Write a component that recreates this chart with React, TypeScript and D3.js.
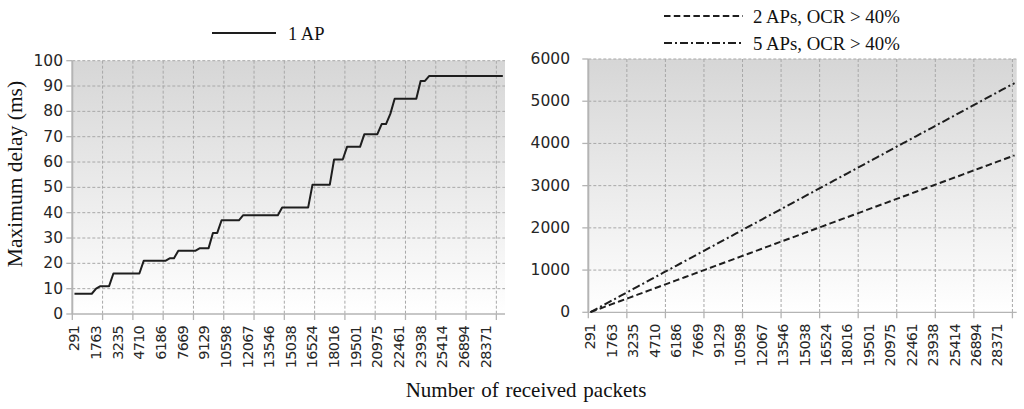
import React from "react";
import * as d3 from "d3";

// ---------- data ----------
const tickLabels = [
  "291", "1763", "3235", "4710", "6186", "7669", "9129", "10598", "12067", "13546",
  "15038", "16524", "18016", "19501", "20975", "22461", "23938", "25414", "26894", "28371",
];
const categoryCount = 100;
const labelInterval = 5;

const ap1 = [
  8, 8, 8, 8, 8, 10, 11, 11, 11, 16,
  16, 16, 16, 16, 16, 16, 21, 21, 21, 21,
  21, 21, 22, 22, 25, 25, 25, 25, 25, 26,
  26, 26, 32, 32, 37, 37, 37, 37, 37, 39,
  39, 39, 39, 39, 39, 39, 39, 39, 42, 42,
  42, 42, 42, 42, 42, 51, 51, 51, 51, 51,
  61, 61, 61, 66, 66, 66, 66, 71, 71, 71,
  71, 75, 75, 79, 85, 85, 85, 85, 85, 85,
  92, 92, 94, 94, 94, 94, 94, 94, 94, 94,
  94, 94, 94, 94, 94, 94, 94, 94, 94, 94,
];

const ap2 = [
  5, 43, 80, 118, 155, 193, 230, 268, 305, 343,
  380, 418, 455, 493, 530, 568, 605, 643, 680, 718,
  755, 793, 830, 868, 905, 943, 980, 1018, 1055, 1093,
  1130, 1168, 1205, 1243, 1280, 1318, 1355, 1393, 1430, 1468,
  1505, 1543, 1580, 1618, 1655, 1693, 1730, 1768, 1805, 1843,
  1880, 1918, 1955, 1993, 2030, 2068, 2105, 2143, 2180, 2218,
  2255, 2293, 2330, 2368, 2405, 2443, 2480, 2518, 2555, 2593,
  2630, 2668, 2705, 2743, 2780, 2818, 2855, 2893, 2930, 2968,
  3005, 3043, 3080, 3118, 3155, 3193, 3230, 3268, 3305, 3343,
  3380, 3418, 3455, 3493, 3530, 3568, 3605, 3643, 3680, 3718,
];

const ap5 = [
  5, 60, 115, 169, 224, 279, 334, 389, 443, 498,
  553, 608, 663, 717, 772, 827, 882, 937, 991, 1046,
  1101, 1156, 1211, 1265, 1320, 1375, 1430, 1485, 1539, 1594,
  1649, 1704, 1759, 1813, 1868, 1923, 1978, 2033, 2087, 2142,
  2197, 2252, 2307, 2361, 2416, 2471, 2526, 2581, 2635, 2690,
  2745, 2800, 2855, 2909, 2964, 3019, 3074, 3129, 3183, 3238,
  3293, 3348, 3403, 3457, 3512, 3567, 3622, 3677, 3731, 3786,
  3841, 3896, 3951, 4005, 4060, 4115, 4170, 4225, 4279, 4334,
  4389, 4444, 4499, 4553, 4608, 4663, 4718, 4773, 4827, 4882,
  4937, 4992, 5047, 5101, 5156, 5211, 5266, 5321, 5375, 5430,
];

const leftYTicks = [0, 10, 20, 30, 40, 50, 60, 70, 80, 90, 100];
const rightYTicks = [0, 1000, 2000, 3000, 4000, 5000, 6000];

const legendLeft = ["1 AP"];
const legendRight = ["2 APs, OCR > 40%", "5 APs, OCR > 40%"];
const yTitle = "Maximum delay (ms)";
const xTitle = "Number of received packets";

// ---------- styles ----------
const SANS = "'DejaVu Sans', sans-serif";
const SERIF = "'Liberation Serif', 'Times New Roman', serif";
const GRID = "#a8a8a8";
const AXIS = "#b4b4b4";
const INK = "#1e1e1e";

type PanelProps = {
  id: string;
  x0: number;
  x1: number;
  yTop: number;
  yBot: number;
  yMax: number;
  yTicks: number[];
  yLabelRight: number;
  tickInterval: number;
  series: { values: number[]; dash: string | null }[];
};

function Panel({ id, x0, x1, yTop, yBot, yMax, yTicks, yLabelRight, tickInterval, series }: PanelProps) {
  const cats = d3.range(categoryCount);
  const x = d3.scaleBand<number>().domain(cats).range([x0, x1]).paddingInner(0).paddingOuter(0);
  const bw = x.bandwidth();
  const y = d3.scaleLinear().domain([0, yMax]).range([yBot, yTop]);
  const line = d3
    .line<number>()
    .x((_, i) => (x(i) as number) + bw / 2)
    .y((d) => y(d));

  const tickBoundaries = cats.filter((i) => i > 0 && i % tickInterval === 0 && i < categoryCount);
  const tickXs = [x0, ...tickBoundaries.map((i) => x(i) as number)];

  return (
    <g>
      <defs>
        <linearGradient id={id} x1="0" y1="0" x2="0" y2="1">
          <stop offset="0%" stopColor="#d6d6d6" />
          <stop offset="100%" stopColor="#ffffff" />
        </linearGradient>
      </defs>
      <rect x={x0} y={yTop} width={x1 - x0} height={yBot - yTop} fill={`url(#${id})`} />
      {yTicks.filter((t) => t > 0).map((t) => (
        <line key={"h" + t} x1={x0} x2={x1} y1={y(t)} y2={y(t)} stroke={GRID} strokeWidth={1} strokeDasharray="3,2" />
      ))}
      {tickBoundaries.map((i) => (
        <line key={"v" + i} x1={x(i) as number} x2={x(i) as number} y1={yTop} y2={yBot} stroke={GRID} strokeWidth={1} strokeDasharray="3,2" />
      ))}
      <line x1={x0} x2={x0} y1={yTop} y2={yBot} stroke={AXIS} strokeWidth={2} />
      <line x1={x0} x2={x1} y1={yBot} y2={yBot} stroke={AXIS} strokeWidth={1.3} />
      {yTicks.map((t) => (
        <g key={"yt" + t}>
          <line x1={x0 - 6} x2={x0} y1={y(t)} y2={y(t)} stroke={AXIS} strokeWidth={1.3} />
          <text x={yLabelRight} y={y(t)} textAnchor="end" dominantBaseline="central" fontFamily={SANS} fontSize={15.5} fill="#262626">
            {t}
          </text>
        </g>
      ))}
      {tickXs.map((tx, k) => (
        <line key={"xt" + k} x1={tx} x2={tx} y1={yBot} y2={yBot + 6} stroke={AXIS} strokeWidth={1.3} />
      ))}
      {tickLabels.map((lab, k) => {
        const cx = (x(k * labelInterval) as number) + bw / 2;
        return (
          <text
            key={"xl" + k}
            transform={`translate(${cx},${yBot + 12}) rotate(-90)`}
            textAnchor="end"
            dominantBaseline="central"
            fontFamily={SANS}
            fontSize={14.5}
            letterSpacing={-0.8}
            fill="#262626"
          >
            {lab}
          </text>
        );
      })}
      {series.map((s, k) => (
        <path
          key={"s" + k}
          d={line(s.values) || ""}
          fill="none"
          stroke={INK}
          strokeWidth={2}
          strokeDasharray={s.dash || undefined}
          strokeLinejoin="round"
        />
      ))}
    </g>
  );
}

export default function App() {
  return (
    <svg
      width={1024}
      height={409}
      style={{ position: "absolute", left: 0, top: 0, background: "#ffffff" }}
    >
      <Panel
        id="gradL"
        x0={72.3}
        x1={505}
        yTop={60.7}
        yBot={314}
        yMax={100}
        yTicks={leftYTicks}
        yLabelRight={63}
        tickInterval={7}
        series={[{ values: ap1, dash: null }]}
      />
      <Panel
        id="gradR"
        x0={588.3}
        x1={1016.7}
        yTop={59}
        yBot={312.3}
        yMax={6000}
        yTicks={rightYTicks}
        yLabelRight={570}
        tickInterval={9}
        series={[
          { values: ap2, dash: "6.5,3.3" },
          { values: ap5, dash: "8,3,2,3" },
        ]}
      />
      {/* legends */}
      <line x1={212} x2={276} y1={33} y2={33} stroke={INK} strokeWidth={2} />
      <text x={288} y={40} fontFamily={SERIF} fontSize={18.5} fill="#111">{legendLeft[0]}</text>
      <line x1={664} x2={743} y1={16} y2={16} stroke={INK} strokeWidth={2} strokeDasharray="6.5,3.3" />
      <text x={753} y={23} fontFamily={SERIF} fontSize={18.8} fill="#111">{legendRight[0]}</text>
      <line x1={664} x2={743} y1={43} y2={43} stroke={INK} strokeWidth={2} strokeDasharray="8,3,2,3" />
      <text x={753} y={50} fontFamily={SERIF} fontSize={18.8} fill="#111">{legendRight[1]}</text>
      {/* axis titles */}
      <text transform="translate(22,174) rotate(-90)" textAnchor="middle" fontFamily={SERIF} fontSize={21.5} fill="#111">
        {yTitle}
      </text>
      <text x={526} y={397} textAnchor="middle" fontFamily={SERIF} fontSize={21} wordSpacing={1.5} fill="#111">
        {xTitle}
      </text>
    </svg>
  );
}
